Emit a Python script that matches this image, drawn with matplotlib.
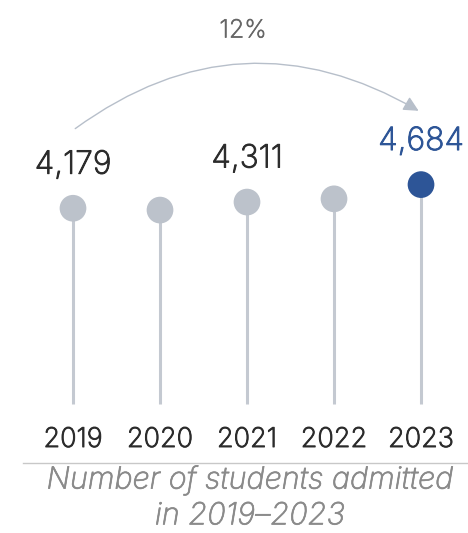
import matplotlib
matplotlib.use("Agg")
import matplotlib.pyplot as plt
import matplotlib.patheffects as pe
from matplotlib.patches import FancyArrowPatch
from matplotlib.lines import Line2D
import matplotlib.transforms as mtransforms

plt.rcParams['font.family'] = ['Inter', 'DejaVu Sans']

years = [2019, 2020, 2021, 2022, 2023]
admitted = [4179, 4140, 4311, 4380, 4684]
labelled = {2019: "4,179", 2021: "4,311", 2023: "4,684"}
growth_label = "12%"
caption = "Number of students admitted\nin 2019\u20132023"

grey_dot = "#bcc2cb"
grey_stem = "#c4c9d1"
blue = "#2d5597"


def bold_up(color, w=0.7):
    # light weight is a touch too thin, thicken the strokes slightly
    return [pe.withStroke(linewidth=w, foreground=color)]


fig = plt.figure(figsize=(4.68, 5.33), dpi=100)
ax = fig.add_axes([0, 0, 1, 1])
ax.set_xlim(2018.161, 2023.540)
ax.set_ylim(-2754, 8625)
ax.axis("off")

colors = [blue if y == years[-1] else grey_dot for y in years]
ax.vlines(years, 0, admitted, color=grey_stem, lw=2.2, zorder=1)
ax.scatter(years, admitted, s=370, color=colors, zorder=2, linewidths=0)

for y, v in zip(years, admitted):
    if y in labelled:
        c = blue if y == years[-1] else "#2b2b2b"
        ax.annotate(labelled[y], (y, v), xytext=(0, 31), textcoords="offset points",
                    ha="center", va="center", fontsize=23, fontweight="light",
                    color=c, path_effects=bold_up(c))

# year labels under the stems
xt = ax.get_xaxis_transform()
for y in years:
    ax.text(y, 1 - 440 / 533, str(y), transform=xt, ha="center", va="center",
            fontsize=19.5, fontweight="light", color="#2b2b2b",
            path_effects=bold_up("#2b2b2b"))

# growth arrow from the first to the last year
lift = mtransforms.offset_copy(ax.transData, fig=fig, y=78, units="dots")
arrow = FancyArrowPatch((years[0], admitted[0]), (years[-1], admitted[-1] - 120),
                        transform=lift, connectionstyle="arc3,rad=-0.33",
                        arrowstyle="-|>,head_length=6,head_width=3",
                        color="#b7bfca", lw=1.0, mutation_scale=1.5)
ax.add_patch(arrow)
ax.text(243 / 468, 1 - 31 / 533, growth_label, transform=ax.transAxes,
        ha="center", va="center", fontsize=18, fontweight="light", color="#666666",
        path_effects=bold_up("#666666", 0.5))

fig.add_artist(Line2D([23 / 468, 1], [1 - 463 / 533] * 2, color="#c8c8c8", lw=1.0))
ax.text(250 / 468, 1 - 498 / 533, caption, transform=ax.transAxes, ha="center",
        va="center", fontsize=22, style="italic", fontweight="light",
        color="#8a8a8a", linespacing=1.3, path_effects=bold_up("#8a8a8a", 0.5))

fig.savefig("out.png", dpi=100)
